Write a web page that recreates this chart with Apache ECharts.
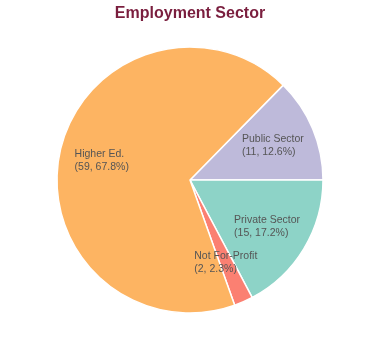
<!DOCTYPE html>
<html><head><meta charset="utf-8">
<script src="https://cdn.jsdelivr.net/npm/echarts@6/dist/echarts.min.js"></script>
<style>html,body{margin:0;padding:0;background:#fff}#c{width:380px;height:360px}</style>
</head><body><div id="c"></div>
<script>
const categories = ["Public Sector", "Private Sector", "Not For-Profit", "Higher Ed."];
const counts = [11, 15, 2, 59];
const colors = ["#BEBADA", "#8DD3C7", "#FB8072", "#FDB462"];
const titleText = "Employment Sector";

const total = counts.reduce((a, b) => a + b, 0);
const FONT = '"Liberation Sans", Arial, sans-serif';
const FS = 10.5;
const ctx = document.createElement('canvas').getContext('2d');
ctx.font = FS + 'px ' + FONT;

const pieData = categories.map((c, i) => ({ name: c, value: counts[i], itemStyle: { color: colors[i] } }));
const labelData = categories.map((c, i) => {
  const l2 = '(' + counts[i] + ', ' + (counts[i] / total * 100).toFixed(1) + '%)';
  const w = Math.ceil(Math.max(ctx.measureText(c).width, ctx.measureText(l2).width));
  return {
    name: c, value: counts[i],
    label: {
      formatter: '{t|' + c + '}\n{t|' + l2 + '}',
      rich: { t: { width: w, align: 'left', fontSize: FS, fontFamily: FONT, color: '#555555', lineHeight: 13 } }
    }
  };
});

const chart = echarts.init(document.getElementById('c'), null, { renderer: 'canvas' });
chart.setOption({
  animation: false,
  title: {
    text: titleText, left: 'center', top: 1,
    textStyle: { fontFamily: FONT, fontSize: 16, fontWeight: 'bold', color: '#7A1E3E' }
  },
  series: [
    {
      type: 'pie', center: [190, 180], radius: [0, 133], startAngle: 45.5, clockwise: true,
      data: pieData, label: { show: false }, labelLine: { show: false },
      itemStyle: { borderColor: '#ffffff', borderWidth: 1.5 }, silent: true
    },
    {
      type: 'pie', center: [190, 180], radius: [41, 133], startAngle: 45.5, clockwise: true,
      data: labelData, silent: true,
      itemStyle: { color: 'rgba(0,0,0,0)', borderWidth: 0 },
      label: { show: true, position: 'inside' }, labelLine: { show: false }
    }
  ]
});
</script></body></html>
